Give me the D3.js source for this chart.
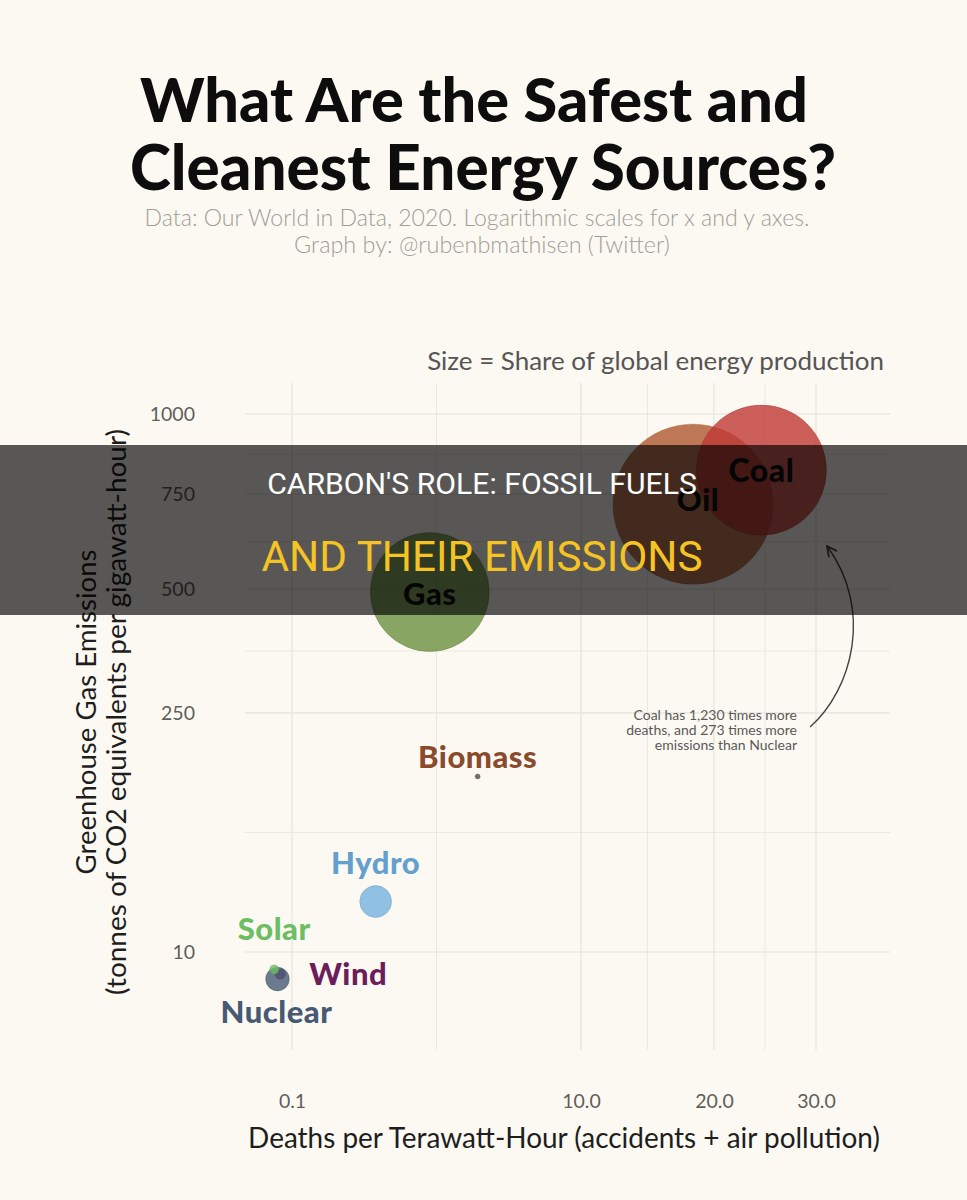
<!DOCTYPE html>
<html>
<head>
<meta charset="utf-8">
<script src="https://cdn.jsdelivr.net/npm/d3@7"></script>
<style>
  html, body { margin: 0; padding: 0; background: #fcf9f2; }
  svg { display: block; font-family: Lato, "Open Sans", sans-serif; }
</style>
</head>
<body>
<svg id="chart" width="967" height="1200"></svg>
<script>
// data (draw order: small first, big last)
var sources   = ["Biomass", "Hydro", "Wind", "Nuclear", "Solar", "Gas", "Oil", "Coal"];
var deaths    = [4.6, 1.3, 0.04, 0.03, 0.02, 2.8, 18.2, 24.4];      // per TWh
var emissions = [155, 34, 4, 3, 5, 493, 721, 821];                   // t CO2eq per GWh
var share     = [1.0, 6.6, 2.2, 4.9, 1.9, 24.6, 33.1, 26.9];         // % of global energy
var xTicks = [0.1, 10, 20, 30];
var yTicks = [10, 250, 500, 750, 1000];

// styles
var fills  = { Biomass: "#7a6a66", Hydro: "#74b3e0", Wind: "#6b1d5c", Nuclear: "#465a73",
               Solar: "#6cbd64", Gas: "#6a9040", Oil: "#ae582e", Coal: "#c13834" };
var labelColor = { Biomass: "#8a4b2d", Hydro: "#64a0cd", Wind: "#6b1d5c", Nuclear: "#465a73",
                   Solar: "#6cbd64", Gas: "#111", Oil: "#111", Coal: "#111" };
var labelOffset = { Biomass: [0, -20], Hydro: [0, -39], Wind: [68, 0], Nuclear: [-1, 33],
                    Solar: [0, -41], Gas: [0, 2], Oil: [5, -4], Coal: [0, 0] };

var svg = d3.select("#chart");
var W = 967, H = 1200;
var panel = { left: 245, right: 890, top: 383, bottom: 1050 };

svg.append("rect").attr("width", W).attr("height", H).attr("fill", "#fcf9f2");

// shrink font until text fits a width
function fitWidth(sel, w) {
    var fs = parseFloat(sel.attr("font-size"));
    var len = sel.node().getComputedTextLength();
    if (len > 0) sel.attr("font-size", (fs * w / len).toFixed(2));
}

// titles
var t1 = svg.append("text").attr("x", 474).attr("y", 122).attr("text-anchor", "middle")
    .attr("font-size", 58).attr("font-weight", 900).attr("fill", "#0d0d0d")
    .text("What Are the Safest and");
fitWidth(t1, 668);
var t2 = svg.append("text").attr("x", 483).attr("y", 190).attr("text-anchor", "middle")
    .attr("font-size", 58).attr("font-weight", 900).attr("fill", "#0d0d0d")
    .text("Cleanest Energy Sources?");
fitWidth(t2, 706);

var s1 = svg.append("text").attr("x", 477).attr("y", 226).attr("text-anchor", "middle")
    .attr("font-size", 20).attr("font-weight", 300).attr("fill", "#a09e99")
    .text("Data: Our World in Data, 2020. Logarithmic scales for x and y axes.");
fitWidth(s1, 665);
var s2 = svg.append("text").attr("x", 482).attr("y", 253).attr("text-anchor", "middle")
    .attr("font-size", 20).attr("font-weight", 300).attr("fill", "#a09e99")
    .text("Graph by: @rubenbmathisen (Twitter)");
fitWidth(s2, 376);

var sz = svg.append("text").attr("x", 884).attr("y", 370).attr("text-anchor", "end")
    .attr("font-size", 23).attr("fill", "#555")
    .text("Size = Share of global energy production");
fitWidth(sz, 457);

// scales (both axes are square-root)
var x = d3.scaleSqrt().domain([0.1, 30]).range([292, 816]);
var y = d3.scaleSqrt().domain([10, 1000]).range([952, 414]);
var r = d3.scaleLinear().domain([0, 33.1]).range([0, 80]);

// minor grid = midpoints in sqrt space
function mids(ticks, s) {
    var out = [];
    for (var i = 0; i < ticks.length - 1; i++) out.push((s(ticks[i]) + s(ticks[i + 1])) / 2);
    return out;
}

var grid = svg.append("g").attr("stroke", "#ebe8e1").attr("fill", "none");
grid.selectAll("line.vmaj").data(xTicks).enter().append("line")
    .attr("x1", function (d) { return x(d); }).attr("x2", function (d) { return x(d); })
    .attr("y1", panel.top).attr("y2", panel.bottom).attr("stroke-width", 1.6);
grid.selectAll("line.vmin").data(mids(xTicks, x)).enter().append("line")
    .attr("x1", function (d) { return d; }).attr("x2", function (d) { return d; })
    .attr("y1", panel.top).attr("y2", panel.bottom).attr("stroke-width", 1);
grid.selectAll("line.hmaj").data(yTicks).enter().append("line")
    .attr("y1", function (d) { return y(d); }).attr("y2", function (d) { return y(d); })
    .attr("x1", panel.left).attr("x2", panel.right).attr("stroke-width", 1.6);
grid.selectAll("line.hmin").data(mids(yTicks, y)).enter().append("line")
    .attr("y1", function (d) { return d; }).attr("y2", function (d) { return d; })
    .attr("x1", panel.left).attr("x2", panel.right).attr("stroke-width", 1);

// axes
var yAxis = svg.append("g").attr("transform", "translate(" + panel.left + ",0)")
    .call(d3.axisLeft(y).tickValues(yTicks).tickSize(0).tickPadding(50).tickFormat(d3.format("d")));
var xAxis = svg.append("g").attr("transform", "translate(0," + panel.bottom + ")")
    .call(d3.axisBottom(x).tickValues(xTicks).tickSize(0).tickPadding(44)
        .tickFormat(function (d) { return d < 1 ? String(d) : d.toFixed(1); }));
[yAxis, xAxis].forEach(function (a) {
    a.select(".domain").remove();
    a.selectAll("text").attr("font-size", 19.5).attr("fill", "#5f5e5a")
        .attr("font-family", "Lato, sans-serif");
});

var xt = svg.append("text").attr("x", 564).attr("y", 1148).attr("text-anchor", "middle")
    .attr("font-size", 24).attr("fill", "#1e1e1e")
    .text("Deaths per Terawatt-Hour (accidents + air pollution)");
fitWidth(xt, 632);

var yt = svg.append("g").attr("transform", "translate(96,712) rotate(-90)");
var yt1 = yt.append("text").attr("x", 0).attr("y", 0).attr("text-anchor", "middle")
    .attr("font-size", 24).attr("fill", "#1e1e1e").text("Greenhouse Gas Emissions");
fitWidth(yt1, 325);
var yt2 = yt.append("text").attr("x", 0).attr("y", 30).attr("text-anchor", "middle")
    .attr("font-size", 24).attr("fill", "#1e1e1e").text("(tonnes of CO2 equivalents per gigawatt-hour)");
fitWidth(yt2, 566);

// bubbles
var data = sources.map(function (s, i) {
    return { name: s, deaths: deaths[i], emissions: emissions[i], share: share[i] };
});

svg.append("g").selectAll("circle").data(data).enter().append("circle")
    .attr("cx", function (d) { return x(d.deaths); })
    .attr("cy", function (d) { return y(d.emissions); })
    .attr("r", function (d) { return Math.max(2.5, r(d.share)); })
    .attr("fill", function (d) { return fills[d.name]; })
    .attr("fill-opacity", function (d) { return d.name === "Biomass" ? 1 : 0.8; })
    .attr("stroke", function (d) { return d3.color(fills[d.name]).darker(0.6); })
    .attr("stroke-opacity", 0.35)
    .attr("stroke-width", 1);

// labels
svg.append("g").selectAll("text").data(data).enter().append("text")
    .attr("x", function (d) { return x(d.deaths) + labelOffset[d.name][0]; })
    .attr("y", function (d) { return y(d.emissions) + labelOffset[d.name][1]; })
    .attr("dy", "0.36em")
    .attr("text-anchor", "middle")
    .attr("font-size", function (d) { return d.name === "Coal" ? 32 : 31; })
    .attr("letter-spacing", 0.5)
    .attr("font-weight", 900)
    .attr("fill", function (d) { return labelColor[d.name]; })
    .text(function (d) { return d.name; });

// annotation
var note = ["Coal has 1,230 times more", "deaths, and 273 times more", "emissions than Nuclear"];
svg.append("g").selectAll("text").data(note).enter().append("text")
    .attr("x", 797).attr("y", function (d, i) { return 720 + i * 15; })
    .attr("text-anchor", "end").attr("font-size", 14).attr("fill", "#5a5a5a")
    .text(function (d) { return d; });

svg.append("defs").append("marker").attr("id", "arr")
    .attr("viewBox", "0 0 10 10").attr("refX", 9).attr("refY", 5)
    .attr("markerWidth", 9).attr("markerHeight", 9).attr("orient", "auto-start-reverse")
    .append("path").attr("d", "M1,1 L9,5 L1,9").attr("fill", "none")
    .attr("stroke", "#444").attr("stroke-width", 1.4);
svg.append("path")
    .attr("d", "M810,727 C852,690 874,610 827,546")
    .attr("fill", "none").attr("stroke", "#444").attr("stroke-width", 1.4)
    .attr("marker-end", "url(#arr)");

// dark banner across the middle
svg.append("rect").attr("x", 0).attr("y", 445).attr("width", W).attr("height", 170)
    .attr("fill", "#000").attr("fill-opacity", 0.65);
var b1 = svg.append("text").attr("x", 482).attr("y", 494).attr("text-anchor", "middle")
    .attr("font-family", "'Liberation Sans Narrow', 'Roboto', sans-serif")
    .attr("font-size", 31).attr("fill", "#ffffff")
    .text("CARBON'S ROLE: FOSSIL FUELS");
fitWidth(b1, 430);
var b2 = svg.append("text").attr("x", 482).attr("y", 571).attr("text-anchor", "middle")
    .attr("font-family", "'Liberation Sans Narrow', 'Roboto', sans-serif")
    .attr("font-size", 39).attr("fill", "#f5c323")
    .text("AND THEIR EMISSIONS");
fitWidth(b2, 441);
</script>
</body>
</html>
